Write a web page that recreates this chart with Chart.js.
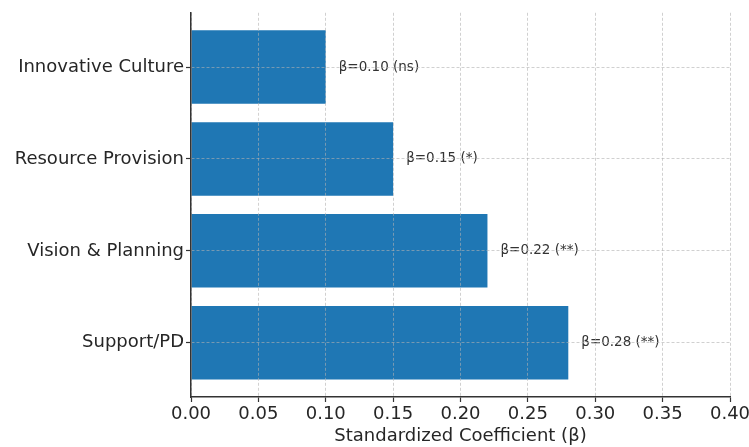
<!DOCTYPE html>
<html>
<head>
<meta charset="utf-8">
<script src="https://cdn.jsdelivr.net/npm/chart.js@4/dist/chart.umd.min.js"></script>
<style>
  html, body { margin: 0; padding: 0; background: #fff; }
  #wrap { width: 749px; height: 447px; position: relative; }
</style>
</head>
<body>
<div id="wrap"><canvas id="chartCoef"></canvas></div>
<script>
// bottom to top, like barh
var categories = ['Support/PD', 'Vision & Planning', 'Resource Provision', 'Innovative Culture'];
var betas = [0.28, 0.22, 0.15, 0.10];
var signif = ['**', '**', '*', 'ns'];
var xTicks = [0, 0.05, 0.10, 0.15, 0.20, 0.25, 0.30, 0.35, 0.40];

var textColor = '#262626';
var gridColor = 'rgba(176,176,176,0.6)';

// value labels right of each bar
var betaLabels = {
    id: 'betaLabels',
    afterDatasetsDraw: function (chart) {
        var ctx = chart.ctx;
        var meta = chart.getDatasetMeta(0);
        ctx.save();
        ctx.font = '13.5px "DejaVu Sans"';
        ctx.fillStyle = '#333';
        ctx.textAlign = 'left';
        ctx.textBaseline = 'middle';
        meta.data.forEach(function (bar, i) {
            var txt = '\u03b2=' + betas[i].toFixed(2) + ' (' + signif[i] + ')';
            ctx.fillText(txt, bar.x + 13, bar.y);
        });
        ctx.restore();
    }
};

new Chart(document.getElementById('chartCoef'), {
    type: 'bar',
    data: {
        datasets: [{
            data: betas.map(function (b, i) { return { x: b, y: i }; }),
            backgroundColor: '#1f77b4',
            borderWidth: 0,
            categoryPercentage: 1,
            barPercentage: 0.8
        }]
    },
    options: {
        indexAxis: 'y',
        responsive: true,
        maintainAspectRatio: false,
        devicePixelRatio: 1,
        animation: false,
        layout: { padding: { top: 10, right: 19, left: 0, bottom: 0 } },
        plugins: {
            legend: { display: false },
            tooltip: { enabled: false }
        },
        scales: {
            x: {
                type: 'linear',
                min: 0,
                max: 0.4,
                offset: false,
                afterBuildTicks: function (scale) {
                    scale.ticks = xTicks.map(function (v) { return { value: v }; });
                },
                afterFit: function (scale) {
                    scale.height = 50;
                    scale.paddingRight = 0;
                    scale.paddingLeft = 0;
                },
                ticks: {
                    color: textColor,
                    font: { family: 'DejaVu Sans', size: 18 },
                    padding: 2,
                    maxRotation: 0,
                    callback: function (v) { return Number(v).toFixed(2); }
                },
                grid: {
                    z: 1,
                    offset: false,
                    color: gridColor,
                    lineWidth: 1,
                    tickLength: 5,
                    tickColor: '#333',
                    tickWidth: 1.2
                },
                border: { z: 2, display: true, color: '#333', width: 1.5, dash: [3, 2] },
                title: {
                    display: true,
                    text: 'Standardized Coefficient (\u03b2)',
                    color: textColor,
                    font: { family: 'DejaVu Sans', size: 18 },
                    padding: { top: 0, bottom: 0 }
                }
            },
            y: {
                type: 'linear',
                min: -0.59,
                max: 3.59,
                offset: false,
                afterBuildTicks: function (scale) {
                    scale.ticks = categories.map(function (c, i) { return { value: i }; });
                },
                afterFit: function (scale) { scale.width = 191; },
                ticks: {
                    color: textColor,
                    font: { family: 'DejaVu Sans', size: 18 },
                    padding: 2,
                    callback: function (v) { return categories[v]; }
                },
                grid: {
                    z: 1,
                    offset: false,
                    color: gridColor,
                    lineWidth: 1,
                    tickLength: 5,
                    tickColor: '#333',
                    tickWidth: 1.2
                },
                border: { z: 2, display: true, color: '#333', width: 1.5, dash: [3, 2] }
            }
        }
    },
    plugins: [betaLabels]
});
</script>
</body>
</html>
